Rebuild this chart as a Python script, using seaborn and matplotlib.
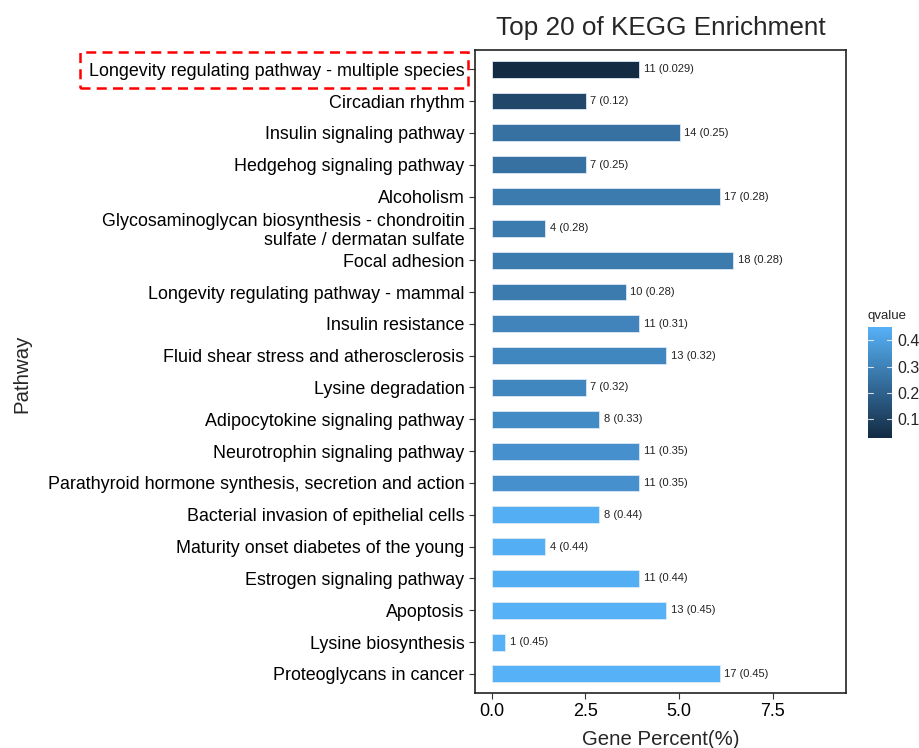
import numpy as np
import pandas as pd
import seaborn as sns
import matplotlib.pyplot as plt
from matplotlib.colors import LinearSegmentedColormap, Normalize
from matplotlib.cm import ScalarMappable
from matplotlib.patches import Rectangle

pathways = [
    "Longevity regulating pathway - multiple species",
    "Circadian rhythm",
    "Insulin signaling pathway",
    "Hedgehog signaling pathway",
    "Alcoholism",
    "Glycosaminoglycan biosynthesis - chondroitin\nsulfate / dermatan sulfate",
    "Focal adhesion",
    "Longevity regulating pathway - mammal",
    "Insulin resistance",
    "Fluid shear stress and atherosclerosis",
    "Lysine degradation",
    "Adipocytokine signaling pathway",
    "Neurotrophin signaling pathway",
    "Parathyroid hormone synthesis, secretion and action",
    "Bacterial invasion of epithelial cells",
    "Maturity onset diabetes of the young",
    "Estrogen signaling pathway",
    "Apoptosis",
    "Lysine biosynthesis",
    "Proteoglycans in cancer",
]
counts = [11, 7, 14, 7, 17, 4, 18, 10, 11, 13, 7, 8, 11, 11, 8, 4, 11, 13, 1, 17]
qvalues = [0.029, 0.12, 0.25, 0.25, 0.28, 0.28, 0.28, 0.28, 0.31, 0.32,
           0.32, 0.33, 0.35, 0.35, 0.44, 0.44, 0.44, 0.45, 0.45, 0.45]
qlabels = ["0.029", "0.12", "0.25", "0.25", "0.28", "0.28", "0.28", "0.28", "0.31", "0.32",
           "0.32", "0.33", "0.35", "0.35", "0.44", "0.44", "0.44", "0.45", "0.45", "0.45"]
gene_percent = [3.94, 2.51, 5.02, 2.51, 6.09, 1.43, 6.45, 3.58, 3.94, 4.66,
                2.51, 2.87, 3.94, 3.94, 2.87, 1.43, 3.94, 4.66, 0.36, 6.09]

df = pd.DataFrame({"Pathway": pathways, "Percent": gene_percent,
                   "Count": counts, "qvalue": qvalues})

sns.set_style("white")
plt.rcParams['font.family'] = ['Liberation Sans', 'DejaVu Sans']

cmap = LinearSegmentedColormap.from_list("gg", ["#132B43", "#56B1F7"])
norm = Normalize(vmin=min(qvalues), vmax=max(qvalues))
palette = {p: cmap(norm(q)) for p, q in zip(pathways, qvalues)}

fig = plt.figure(figsize=(9.2, 7.48), dpi=100)
ax = fig.add_axes([0.516, 0.0735, 0.4035, 0.8595])

sns.barplot(data=df, x="Percent", y="Pathway", hue="Pathway", palette=palette,
            order=pathways, orient="h", width=0.53, legend=False, saturation=1,
            edgecolor="#dde8f4", linewidth=0.6, ax=ax)

for i, (c, q, v) in enumerate(zip(counts, qlabels, gene_percent)):
    ax.text(v + 0.12, i, f"{c} ({q})", va="center", ha="left", fontsize=8, color="#222222")

ax.set_xlim(-0.45, 9.45)
ax.set_ylim(19.6, -0.6)
ax.set_xticks([0, 2.5, 5.0, 7.5])
ax.set_xticklabels(["0.0", "2.5", "5.0", "7.5"])
ax.tick_params(axis="both", which="both", length=4, width=0.8, color="#333333",
               bottom=True, left=True, labelsize=13, labelcolor="black")
ax.tick_params(axis="y", labelsize=12.9)
for lbl in ax.get_yticklabels():
    lbl.set_linespacing(1.15)
for s in ax.spines.values():
    s.set_linewidth(1.2)
    s.set_color("#222222")
ax.set_xlabel("Gene Percent(%)", fontsize=14.7, labelpad=7)
ax.set_ylabel("")
fig.text(22 / 920, 0.5, "Pathway", rotation=90, fontsize=14.7, ha="center", va="center")
ax.set_title("Top 20 of KEGG Enrichment", fontsize=18.8, pad=11)

# highlight box around first label
fig.add_artist(Rectangle((80 / 920, 1 - 88 / 748), 388 / 920, 36 / 748,
                         transform=fig.transFigure, fill=False,
                         edgecolor="red", linestyle=(0, (4, 2.5)), linewidth=1.8))

cax = fig.add_axes([868 / 920, 1 - 438 / 748, 24 / 920, 111 / 748])
sm = ScalarMappable(norm=norm, cmap=cmap)
cb = fig.colorbar(sm, cax=cax)
cb.set_ticks([0.1, 0.2, 0.3, 0.4])
cb.outline.set_visible(False)
cax.tick_params(length=0, labelsize=11.5, pad=4)
for t in [0.1, 0.2, 0.3, 0.4]:
    cax.plot([0, 0.2], [t, t], color="white", lw=0.8, alpha=0.8)
    cax.plot([0.8, 1.0], [t, t], color="white", lw=0.8, alpha=0.8)
cax.set_title("qvalue", fontsize=9.5, loc="left", pad=6)

fig.savefig("out.png", dpi=100)
